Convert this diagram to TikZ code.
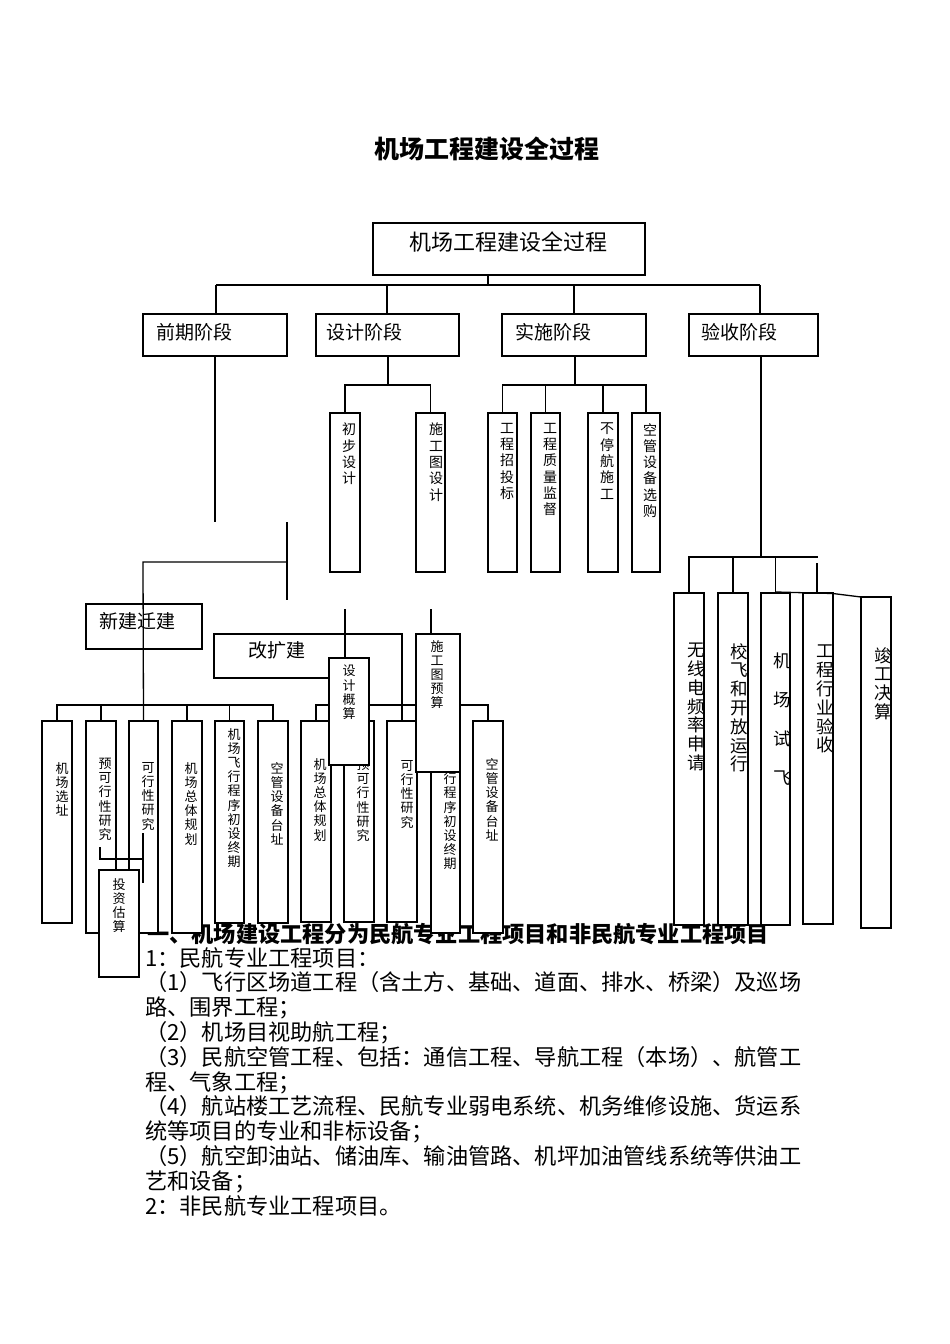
\documentclass[tikz,border=0pt]{standalone}
\usepackage{fontspec}
\setmainfont{Noto Sans CJK SC}
\newcommand\bx[5]{\node[box, minimum width={(#4)-(#2)}, minimum height={(#5)-(#3)}] (#1) at ({((#2)+(#4))/2},{((#3)+(#5))/2}) {};}
\begin{document}
\begin{tikzpicture}[x=1pt,y=-1pt,
  box/.style={draw=black, line width=1.3pt, fill=white, inner sep=0pt, outer sep=0pt},
  ln/.style={draw=black, line width=1.3pt},
  vts/.style={inner sep=0pt, align=center, anchor=north, font=\fontsize{13}{14.2}\selectfont},
  vtm/.style={inner sep=0pt, align=center, anchor=north, font=\fontsize{14}{16.3}\selectfont},
  vtl/.style={inner sep=0pt, align=center, anchor=north, font=\fontsize{17.5}{18.8}\selectfont},
  vtw/.style={inner sep=0pt, align=center, anchor=north, font=\fontsize{17.5}{39}\selectfont},
  lbl/.style={inner sep=0pt, anchor=west, font=\fontsize{19}{22}\selectfont},
  bodyl/.style={inner sep=0pt, anchor=base west, font=\fontsize{22.2}{24.8}\selectfont},
  bodyh/.style={inner sep=0pt, anchor=base west, font=\fontsize{22.2}{24.8}\selectfont\bfseries},
]
\useasboundingbox (0,0) rectangle (950,1344);

% ---------- title and body text ----------
\node[inner sep=0pt, font=\fontsize{25}{28}\selectfont\bfseries] (title) at (487,149) {机场工程建设全过程};
\node[bodyh] (L0) at (147,942) {一、机场建设工程分为民航专业工程项目和非民航专业工程项目};
\node[bodyl] (L1) at (145,966) {1：民航专业工程项目：};
\node[bodyl] (L2) at (145,990.8) {（1）飞行区场道工程（含土方、基础、道面、排水、桥梁）及巡场};
\node[bodyl] (L3) at (145,1015.6) {路、围界工程；};
\node[bodyl] (L4) at (145,1040.4) {（2）机场目视助航工程；};
\node[bodyl] (L5) at (145,1065.2) {（3）民航空管工程、包括：通信工程、导航工程（本场）、航管工};
\node[bodyl] (L6) at (145,1090) {程、气象工程；};
\node[bodyl] (L7) at (145,1114.8) {（4）航站楼工艺流程、民航专业弱电系统、机务维修设施、货运系};
\node[bodyl] (L8) at (145,1139.6) {统等项目的专业和非标设备；};
\node[bodyl] (L9) at (145,1164.4) {（5）航空卸油站、储油库、输油管路、机坪加油管线系统等供油工};
\node[bodyl] (L10) at (145,1189.2) {艺和设备；};
\node[bodyl] (L11) at (145,1214) {2：非民航专业工程项目。};

% ---------- main boxes ----------
\bx{top}{373}{223}{645}{275}
\node[inner sep=0pt, font=\fontsize{22}{24}\selectfont] (toptxt) at (508,242) {机场工程建设全过程};
\bx{p1}{143}{314}{287}{356}
\node[lbl] (p1t) at (156,332) {前期阶段};
\bx{p2}{316}{314}{459}{356}
\node[lbl] (p2t) at (326,332) {设计阶段};
\bx{p3}{502}{314}{646}{356}
\node[lbl] (p3t) at (515,332) {实施阶段};
\bx{p4}{689}{314}{818}{356}
\node[lbl] (p4t) at (701,332) {验收阶段};

% ---------- level-1 connectors ----------
\coordinate (b0) at (488,285);
\coordinate (b1) at (216,285);
\coordinate (b2) at (387,285);
\coordinate (b3) at (574,285);
\coordinate (b4) at (760,285);
\draw[ln] (b0 |- top.south) -- (b0);
\draw[ln] (b1) -- (b4);
\draw[ln] (b1) -- (b1 |- p1.north);
\draw[ln] (b2) -- (b2 |- p2.north);
\draw[ln] (b3) -- (b3 |- p3.north);
\draw[ln] (b4) -- (b4 |- p4.north);

% ---------- design stage ----------
\bx{s1}{330}{413}{360}{572}
\node[vtm] (s1t) at (349,423) {初\\步\\设\\计};
\bx{s2}{416}{413}{445}{572}
\node[vtm] (s2t) at (436,423) {施\\工\\图\\设\\计};
\coordinate (d0) at (388,385);
\draw[ln] (d0 |- p2.south) -- (d0);
\draw[ln] (s1.north) -- ++(0,-28) -| (s2.north);

% ---------- implementation stage ----------
\bx{i1}{488}{413}{517}{572}
\node[vtm] (i1t) at (507,423) {工\\程\\招\\投\\标};
\bx{i2}{531}{413}{560}{572}
\node[vtm] (i2t) at (550,423) {工\\程\\质\\量\\监\\督};
\bx{i3}{588}{413}{618}{572}
\node[vtm] (i3t) at (607,423) {不\\停\\航\\施\\工};
\bx{i4}{632}{413}{660}{572}
\node[vtm] (i4t) at (650,423) {空\\管\\设\\备\\选\\购};
\coordinate (e0) at (575,385);
\draw[ln] (e0 |- p3.south) -- (e0);
\draw[ln] (i1.north) -- ++(0,-28) -| (i4.north);
\draw[ln] (i2.north) -- ++(0,-28);
\draw[ln] (i3.north) -- ++(0,-28);

% ---------- acceptance stage ----------
\bx{a1}{674}{593}{704}{925}
\node[vtl] (a1t) at (696,643) {无\\线\\电\\频\\率\\申\\请};
\bx{a2}{718}{593}{748}{925}
\node[vtl] (a2t) at (739,643) {校\\飞\\和\\开\\放\\运\\行};
\bx{a3}{761}{593}{790}{925}
\node[vtw] (a3t) at (782,653) {机\\场\\试\\飞};
\bx{a4}{803}{593}{833}{924}
\node[vtl] (a4t) at (825,645) {工\\程\\行\\业\\验\\收};
\bx{a5}{861}{597}{891}{928}
\node[vtl] (a5t) at (883,647) {竣\\工\\决\\算};
\coordinate (a0) at (761,557);
\coordinate (a9) at (818,557);
\draw[ln] (a0 |- p4.south) -- (a0);
\draw[ln] (a1.north) -- ++(0,-36) -- (a9);
\draw[ln] (a2.north) -- ++(0,-36);
\draw[ln] (a3.north) -- ++(0,-36);
\coordinate (a6) at (817,563);
\draw[ln] (a6) -- (a6 |- a4.north);
\coordinate (a7) at (776,592);
\coordinate (a8) at (833,593.5);
\draw[ln] (a7) -- (a8) -- (a5.north west);

% ---------- early stage connectors ----------
\coordinate (q1) at (215,522);
\coordinate (q2) at (287,522);
\coordinate (q3) at (287,600);
\coordinate (q4) at (287,562);
\coordinate (q5) at (143,562);
\draw[ln] (q1 |- p1.south) -- (q1);
\draw[ln] (q2) -- (q3);

% ---------- first group ----------
\bx{g1}{42}{721}{72}{923}
\node[vts] (g1t) at (62,762) {机\\场\\选\\址};
\bx{g2}{86}{721}{116}{933}
\node[vts] (g2t) at (105,758) {预\\可\\行\\性\\研\\究};
\bx{g3}{129}{721}{158}{933}
\node[vts] (g3t) at (148,762) {可\\行\\性\\研\\究};
\bx{g4}{172}{721}{202}{933}
\node[vts] (g4t) at (191,762) {机\\场\\总\\体\\规\\划};
\bx{g5}{215}{721}{244}{923}
\node[vts] (g5t) at (234,728) {机\\场\\飞\\行\\程\\序\\初\\设\\终\\期};
\bx{g6}{258}{721}{288}{923}
\node[vts] (g6t) at (277,762) {空\\管\\设\\备\\台\\址};
\draw[ln] (g1.north) -- ++(0,-16) -| (g6.north);
\draw[ln] (g2.north) -- ++(0,-16);
\draw[ln] (g4.north) -- ++(0,-16);
\draw[ln] (g5.north) -- ++(0,-16);

% ---------- second group ----------
\bx{h1}{301}{721}{331}{922}
\node[vts] (h1t) at (320,758) {机\\场\\总\\体\\规\\划};
\bx{h2}{344}{721}{374}{922}
\node[vts] (h2t) at (363,759) {预\\可\\行\\性\\研\\究};
\bx{h3}{387}{721}{417}{922}
\node[vts] (h3t) at (407,760) {可\\行\\性\\研\\究};
\bx{h4}{431}{721}{460}{933}
\node[vts] (h4t) at (450,730) {机\\场\\飞\\行\\程\\序\\初\\设\\终\\期};
\bx{h5}{473}{721}{503}{933}
\node[vts] (h5t) at (492,758) {空\\管\\设\\备\\台\\址};
\draw[ln] (h1.north) -- ++(0,-16) -| (h5.north);

% ---------- rebuild / extension ----------
\bx{gkj}{214}{634}{345}{678}
\node[lbl] (gkjt) at (248,650) {改扩建};
\draw[ln] (gkj.north east) -- (h3.north |- gkj.north) -- (h3.north);

\bx{sjg}{329}{658}{369}{765}
\node[vts] (sjgt) at (349,665) {设\\计\\概\\算};
\bx{sgy}{416}{634}{460}{772}
\node[vts] (sgyt) at (437,640) {施\\工\\图\\预\\算};
\coordinate (v1) at (345,609);
\coordinate (v2) at (431,609);
\draw[ln] (v1) -- (v1 |- sjg.north);
\draw[ln] (v2) -- (v2 |- sgy.north);

% ---------- new build / relocation ----------
\bx{new}{86}{604}{202}{649}
\node[lbl] (newt) at (99,621) {新建迁建};
\draw[ln] (q4) -- (q5) -- (g3.north);

% ---------- investment estimate ----------
\coordinate (k1) at (100,847);
\coordinate (k2) at (143,859);
\coordinate (k3) at (143,833);
\coordinate (k4) at (143,883);
\draw[ln] (k1) |- (k2);
\draw[ln] (k3) -- (k4);
\bx{tzg}{99}{870}{139}{977}
\node[vts] (tzgt) at (119,878) {投\\资\\估\\算};
\end{tikzpicture}
\end{document}
